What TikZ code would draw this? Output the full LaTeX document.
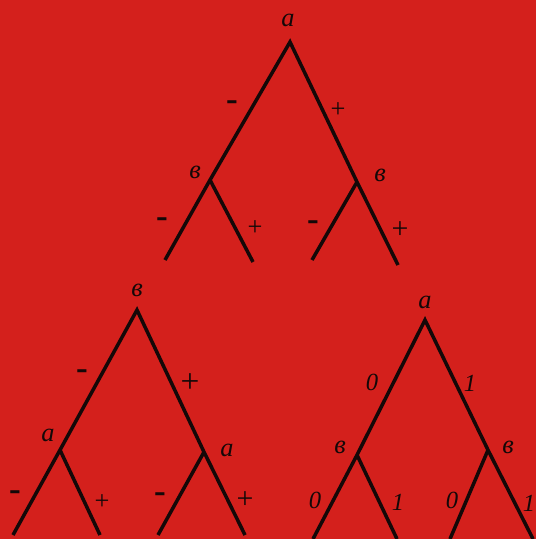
\documentclass[tikz,border=0pt]{standalone}
\usepackage{fontspec}
\setmainfont{Liberation Serif}
\usetikzlibrary{positioning}
\definecolor{Scarlet}{RGB}{212,32,28}
\definecolor{Ink}{RGB}{20,8,8}

\begin{document}
\begin{tikzpicture}[
    edge/.style={draw=Ink,line width=2pt},
    var/.style={font=\fontsize{15}{15}\selectfont\itshape,text=Ink,inner sep=0pt},
    sgn/.style={font=\fontsize{15}{15}\selectfont,text=Ink,inner sep=0pt},
    minus/.style={font=\fontsize{20}{20}\selectfont\bfseries,text=Ink,inner sep=0pt},
    bit/.style={font=\fontsize{14}{14}\selectfont\itshape,text=Ink,inner sep=0pt}
]

% background
\fill[Scarlet] (0,0) rectangle (10.72,-10.78);
\useasboundingbox (0,0) rectangle (10.72,-10.78);

% Top tree (a, then в)
\coordinate (t-root) at (5.80,-0.84);
\coordinate (t-l) at (4.20,-3.60);
\coordinate (t-r) at (7.14,-3.64);
\coordinate (t-ll) at (3.30,-5.20);
\coordinate (t-lr) at (5.06,-5.24);
\coordinate (t-rl) at (6.24,-5.20);
\coordinate (t-rr) at (7.96,-5.30);

\draw[edge] (t-ll) -- (t-l) -- (t-root) -- (t-r) -- (t-rr);
\draw[edge] (t-l) -- (t-lr);
\draw[edge] (t-r) -- (t-rl);

\node[var] (t-a) at (5.76,-0.40) {a};
\node[minus] (t-m) at (4.64,-2.12) {-};
\node[sgn] (t-p) at (6.76,-2.20) {+};
\node[var] (t-bl) at (3.90,-3.44) {в};
\node[var] (t-br) at (7.60,-3.50) {в};
\node[minus] (t-lm) at (3.24,-4.46) {-};
\node[sgn] (t-lp) at (5.10,-4.56) {+};
\node[minus] (t-rm) at (6.26,-4.52) {-};
\node[sgn,font=\fontsize{17}{17}\selectfont] (t-rp) at (8.00,-4.60) {+};

% Bottom left tree (в, then a)
\coordinate (l-root) at (2.74,-6.20);
\coordinate (l-l) at (1.20,-9.00);
\coordinate (l-r) at (4.08,-9.04);
\coordinate (l-ll) at (0.26,-10.70);
\coordinate (l-lr) at (2.00,-10.70);
\coordinate (l-rl) at (3.16,-10.70);
\coordinate (l-rr) at (4.90,-10.70);

\draw[edge] (l-ll) -- (l-l) -- (l-root) -- (l-r) -- (l-rr);
\draw[edge] (l-l) -- (l-lr);
\draw[edge] (l-r) -- (l-rl);

\node[var] (l-b) at (2.74,-5.80) {в};
\node[minus] (l-m) at (1.64,-7.50) {-};
\node[sgn,font=\fontsize{19}{19}\selectfont] (l-p) at (3.80,-7.66) {+};
\node[var] (l-al) at (0.96,-8.70) {a};
\node[var] (l-ar) at (4.54,-9.00) {a};
\node[minus] (l-lm) at (0.30,-9.92) {-};
\node[sgn] (l-lp) at (2.04,-10.04) {+};
\node[minus] (l-rm) at (3.20,-9.96) {-};
\node[sgn,font=\fontsize{17}{17}\selectfont] (l-rp) at (4.90,-10.00) {+};

% Bottom right tree (0 / 1)
\coordinate (r-root) at (8.50,-6.40);
\coordinate (r-l) at (7.14,-9.10);
\coordinate (r-r) at (9.76,-9.00);
\coordinate (r-ll) at (6.26,-10.78);
\coordinate (r-lr) at (7.94,-10.78);
\coordinate (r-rl) at (9.00,-10.78);
\coordinate (r-rr) at (10.66,-10.78);

\draw[edge] (r-ll) -- (r-l) -- (r-root) -- (r-r) -- (r-rr);
\draw[edge] (r-l) -- (r-lr);
\draw[edge] (r-r) -- (r-rl);

\node[var] (r-a) at (8.50,-6.04) {a};
\node[bit] (r-0) at (7.44,-7.64) {0};
\node[bit] (r-1) at (9.40,-7.66) {1};
\node[var] (r-bl) at (6.80,-8.94) {в};
\node[var] (r-br) at (10.16,-8.94) {в};
\node[bit] (r-l0) at (6.30,-10.00) {0};
\node[bit] (r-l1) at (7.96,-10.04) {1};
\node[bit] (r-r0) at (9.04,-10.00) {0};
\node[bit] (r-r1) at (10.58,-10.06) {1};

\end{tikzpicture}
\end{document}
